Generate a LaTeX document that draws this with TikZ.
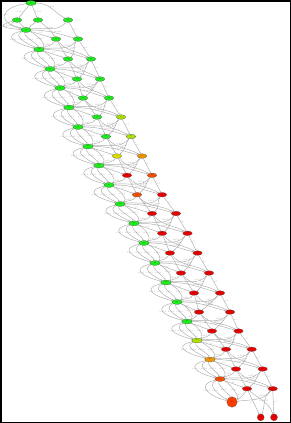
\documentclass[tikz,border=0pt]{standalone}
\usetikzlibrary{arrows.meta,shapes.geometric}
\definecolor{cg}{RGB}{30,235,30}
\definecolor{cyg}{RGB}{170,225,0}
\definecolor{cy}{RGB}{225,225,0}
\definecolor{co}{RGB}{240,150,0}
\definecolor{cro}{RGB}{240,80,0}
\definecolor{cr}{RGB}{235,0,0}
\definecolor{cbig}{RGB}{250,60,0}
\begin{document}
\begin{tikzpicture}[x=1pt,y=-1pt,
 nd/.style={ellipse, draw=black!70, line width=0.2pt, inner sep=0pt, minimum width=9.5pt, minimum height=4.6pt, font=\fontsize{1.3}{1.5}\selectfont},
 sp/.style={nd, minimum width=10.5pt, minimum height=5pt},
 endc/.style={circle, draw=black!70, line width=0.2pt, inner sep=0pt, minimum size=7pt, fill=cr, font=\fontsize{1.3}{1.5}\selectfont},
 ed/.style={draw=black!32, line width=0.45pt, -{Stealth[length=1.5pt,width=1.3pt]}},
 el/.style={font=\fontsize{1.8}{2}\selectfont, text=black!50, inner sep=0.4pt}
]
\fill[white] (0,0) rectangle (291,423);
\draw[line width=1.5pt] (0.75,0.75) rectangle (290.25,422.25);
\useasboundingbox (0,0) rectangle (291,423);
% spine nodes
\foreach \k/\x/\y/\c in {0/31/3/cg,1/26/30/cg,2/39/49.5/cg,3/50/69/cg,4/60/88/cg,5/69/107.5/cg,6/78/127/cg,7/88/146.5/cg,8/99/165.5/cg,9/109/185/cg,10/120/204/cg,11/134/223.3/cg,12/144/243/cg,13/155/263/cg,14/166/282.5/cg,15/177/302/cg,16/187/321.5/cg,17/197/340.5/cyg,18/210/359.5/co,19/220/379/cro}
  \node[sp, fill=\c] (S\k) at (\x,\y) {s\k};
\node[circle, draw=black!70, line width=0.2pt, inner sep=0pt, minimum size=10.5pt, fill=cbig, font=\fontsize{1.3}{1.5}\selectfont] (S20) at (232,402) {s20};
% side nodes
\foreach \k/\ax/\bx/\y/\ca/\cb in {1/56/78/39/cg/cg,2/68/91/59/cg/cg,3/77/100/79/cg/cg,4/83/109/98/cg/cg,5/97/121/117/cg/cyg,6/106/131/136.5/cg/cyg,7/117/142/156/cy/co,8/127/152/175.3/cr/cro,9/137/162/194.7/cro/cr,10/152/176/213.5/cr/cr,11/162/187.5/233.3/cr/cr,12/170/197.5/253/cr/cr,13/181/209/273/cr/cr,14/194/220/293/cr/cr,15/199/230/312/cr/cr,16/212/238.5/331/cr/cr,17/226/251.7/349.3/cr/cr,18/236/262.7/369/cr/cr,19/247/272.7/388.7/cr/cr}
  {\node[nd, fill=\ca] (A\k) at (\ax,\y) {a\k};
   \node[nd, fill=\cb] (B\k) at (\bx,\y) {b\k};}
% top row
\node[nd, fill=cg] (T1) at (17,20) {t1};
\node[nd, fill=cg] (T2) at (38,20) {t2};
\node[nd, fill=cg] (T3) at (68,20) {t3};
% end nodes
\node[endc] (E1) at (260.7,417.3) {e1};
\node[endc] (E2) at (274,417.3) {e2};
% top edges
\draw[ed] (S0) -- node[el,left]{0.50:1} (T1);
\draw[ed] (S0) -- node[el,right]{0.50:1} (T2);
\draw[ed] (S0) to[out=0,in=150] node[el,above]{0.25:1} (T3);
\draw[ed] (T1) -- (S1);
\draw[ed] (T2) -- (S1);
\draw[ed] (T3) to[out=230,in=10] node[el,above]{0.50:1} (S1);
\draw[ed] (T2) to[out=-40,in=120] node[el,right]{0.5} (A1);
\draw[ed] (T3) -- node[el,right]{0.5} (B1);
\draw[ed] (T1) .. controls +(-10,6) and +(-10,-4) .. node[el,left]{0.50:1} (S1);
\draw[ed] (T1) .. controls +(-22,6) and +(-22,-2) .. node[el]{0.25:1} (S1);
\draw[ed] (S0) .. controls +(-30,4) and +(-30,-8) .. node[el]{0.25:1} (S1);
% level edges
\foreach \k [count=\n from 2] in {1,...,18}{
  \draw[ed] (S\k) -- node[el,above]{0.5} (A\k);
  \draw[ed] (S\k) to[out=0,in=165] node[el,above,pos=0.6]{0.50:0.25} (B\k);
  \draw[ed] (A\k) to[out=240,in=25] node[el,pos=0.35,left]{0.25:1} (S\n);
  \draw[ed] (B\k) to[out=230,in=8] node[el,pos=0.3,above]{0.25:1} (S\n);
  \draw[ed] (S\k) .. controls +(-25,6) and +(-23,-6) .. node[el]{0.25:1} (S\n);
  \draw[ed] (S\k) .. controls +(-14,6) and +(-12,-6) .. node[el]{0.50:1} (S\n);
  \draw[ed] (S\k) .. controls +(-3,6) and +(-2,-6) .. node[el]{0.25:1} (S\n);
  \draw[ed] (S\k) .. controls +(10,4) and +(8,-5) .. node[el]{0.50:1} (S\n);
  \draw[ed] (A\k) -- node[el,right,pos=0.4]{0.5} (A\n);
  \draw[ed] (B\k) -- node[el,right,pos=0.4]{0.5} (B\n);
  \draw[ed] (A\k) to[out=-50,in=150] node[el,pos=0.5,above]{0.25} (B\n);
  \draw[ed] (B\k) to[out=-130,in=35] node[el,pos=0.5,above]{0.25} (A\n);
}
% last level
\draw[ed] (S19) -- node[el,above]{0.5} (A19);
\draw[ed] (S19) to[out=0,in=165] node[el,above,pos=0.6]{0.50:0.25} (B19);
\draw[ed] (A19) to[out=240,in=25] node[el,pos=0.35,left]{0.25:1} (S20);
\draw[ed] (B19) to[out=230,in=8] node[el,pos=0.3,above]{0.25:1} (S20);
\draw[ed] (S19) .. controls +(-25,6) and +(-23,-6) .. node[el]{0.25:1} (S20);
\draw[ed] (S19) .. controls +(-14,6) and +(-12,-6) .. node[el]{0.50:1} (S20);
\draw[ed] (S19) .. controls +(-3,6) and +(-2,-6) .. node[el]{0.25:1} (S20);
\draw[ed] (S19) .. controls +(10,4) and +(8,-5) .. node[el]{0.50:1} (S20);
\draw[ed] (A19) -- node[el,left,pos=0.5]{0.5} (E1);
\draw[ed] (B19) -- node[el,right,pos=0.5]{0.5} (E2);
\draw[ed] (A19) to[out=-40,in=110] node[el,pos=0.5,right]{0.25} (E2);
\draw[ed] (B19) to[out=-140,in=70] node[el,pos=0.5,left]{0.25} (E1);
\end{tikzpicture}
\end{document}
